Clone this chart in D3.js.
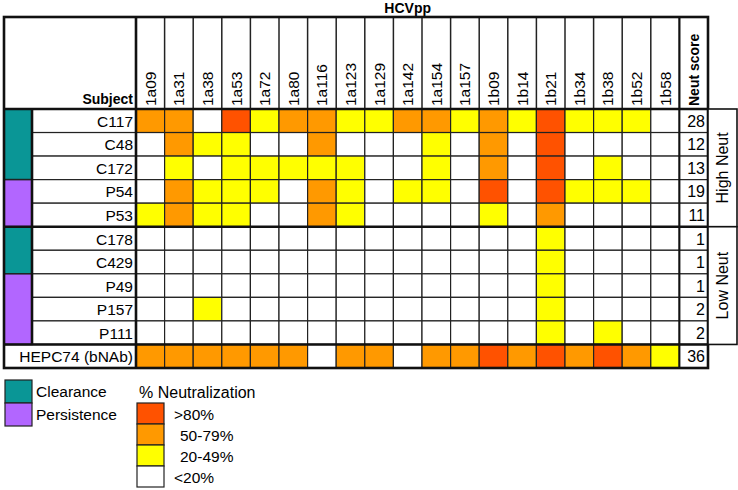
<!DOCTYPE html>
<html>
<head>
<meta charset="utf-8">
<script src="https://cdn.jsdelivr.net/npm/d3@7"></script>
<style>
  body { margin: 0; background: #fff; }
  svg { display: block; font-family: Arial, "Liberation Sans", sans-serif; }
</style>
</head>
<body>
<svg id="chart" width="738" height="490"></svg>
<script>
// strains (HCVpp) across the top
var strains = ["1a09","1a31","1a38","1a53","1a72","1a80","1a116","1a123","1a129","1a142",
               "1a154","1a157","1b09","1b14","1b21","1b34","1b38","1b52","1b58"];
var subjects = ["C117","C48","C172","P54","P53","C178","C429","P49","P157","P111","HEPC74 (bNAb)"];
var outcome = ["Clearance","Clearance","Clearance","Persistence","Persistence",
               "Clearance","Clearance","Persistence","Persistence","Persistence", null];
var neutScore = [28,12,13,19,11,1,1,1,2,2,36];
var neutGroups = ["High Neut","Low Neut"];
var highNeut = ["C117","C48","C172","P54","P53"];
var lowNeut = ["C178","C429","P49","P157","P111"];

// neutralization level per strain: 0 <20%, 1 20-49%, 2 50-79%, 3 >80%
var C117 = [2,2,0,3,1,2,2,1,1,2,2,1,2,1,3,1,1,1,0];
var C48  = [0,2,1,1,0,0,2,0,0,0,1,0,2,0,3,0,0,0,0];
var C172 = [0,1,0,1,1,1,1,1,0,0,1,0,2,0,3,0,1,0,0];
var P54  = [0,2,1,1,1,0,2,1,0,1,1,0,3,0,3,1,1,1,0];
var P53  = [1,2,1,1,0,0,2,1,0,0,0,0,1,0,2,0,0,0,0];
var C178 = [0,0,0,0,0,0,0,0,0,0,0,0,0,0,1,0,0,0,0];
var C429 = [0,0,0,0,0,0,0,0,0,0,0,0,0,0,1,0,0,0,0];
var P49  = [0,0,0,0,0,0,0,0,0,0,0,0,0,0,1,0,0,0,0];
var P157 = [0,0,1,0,0,0,0,0,0,0,0,0,0,0,1,0,0,0,0];
var P111 = [0,0,0,0,0,0,0,0,0,0,0,0,0,0,1,0,1,0,0];
var HEPC74 = [2,2,2,2,2,2,0,2,2,0,2,2,3,2,3,2,3,2,1];
var levels = [C117,C48,C172,P54,P53,C178,C429,P49,P157,P111,HEPC74];

var levelLabels = ["<20%","20-49%","50-79%",">80%"];
var outcomes = ["Clearance","Persistence"];

var svg = d3.select("#chart");

// note: "top" is taken by window.top, so tableTop
var left = 4, tableTop = 17, barRight = 32, nameRight = 136, headBottom = 109, tableBottom = 368;
var scoreCol = "Neut score";

var x = d3.scaleBand().domain(strains.concat([scoreCol])).range([nameRight, 708]);
var y = d3.scaleBand().domain(subjects).range([headBottom, tableBottom]);
var heat = d3.scaleOrdinal().domain([0,1,2,3]).range(["#ffffff","#ffff00","#ff9900","#ff5200"]);
var outColor = d3.scaleOrdinal().domain(outcomes).range(["#0a9696","#b266ff"]);

// title
svg.append("text")
  .attr("x", (x("1a09") + x("1b58") + x.bandwidth()) / 2)
  .attr("y", 13)
  .attr("text-anchor", "middle")
  .attr("font-weight", "bold")
  .attr("font-size", 14)
  .text("HCVpp");

// heatmap cells
var cells = [];
levels.forEach(function(row, i) {
  row.forEach(function(v, j) { cells.push({s: subjects[i], k: strains[j], v: v}); });
});
svg.append("g").selectAll("rect")
  .data(cells)
  .enter().append("rect")
    .attr("x", function(d) { return x(d.k); })
    .attr("y", function(d) { return y(d.s); })
    .attr("width", x.bandwidth())
    .attr("height", y.bandwidth())
    .attr("fill", function(d) { return heat(d.v); })
    .attr("stroke", "#222")
    .attr("stroke-width", 1.2);

// score column
svg.append("g").selectAll("rect")
  .data(subjects)
  .enter().append("rect")
    .attr("x", x(scoreCol))
    .attr("y", function(d) { return y(d); })
    .attr("width", x.bandwidth())
    .attr("height", y.bandwidth())
    .attr("fill", "#fff")
    .attr("stroke", "#222")
    .attr("stroke-width", 1.2);
svg.append("g").selectAll("text")
  .data(neutScore)
  .enter().append("text")
    .attr("x", x(scoreCol) + x.bandwidth() - 3)
    .attr("y", function(d, i) { return y(subjects[i]) + y.bandwidth() / 2 + 6; })
    .attr("text-anchor", "end")
    .attr("font-size", 16)
    .text(function(d) { return d; });

// subject names
svg.append("g").selectAll("rect")
  .data(subjects)
  .enter().append("rect")
    .attr("x", function(d, i) { return outcome[i] ? barRight : left; })
    .attr("y", function(d) { return y(d); })
    .attr("width", function(d, i) { return nameRight - (outcome[i] ? barRight : left); })
    .attr("height", y.bandwidth())
    .attr("fill", "#fff")
    .attr("stroke", "#222")
    .attr("stroke-width", 1.2);
svg.append("g").selectAll("text")
  .data(subjects)
  .enter().append("text")
    .attr("x", nameRight - 3)
    .attr("y", function(d) { return y(d) + y.bandwidth() / 2 + 6; })
    .attr("text-anchor", "end")
    .attr("font-size", 15.5)
    .text(function(d) { return d; });

// outcome colour bar: contiguous runs
var runs = [];
outcome.forEach(function(o, i) {
  if (!o) return;
  var last = runs[runs.length - 1];
  if (last && last.o === o && last.end === i - 1) last.end = i;
  else runs.push({o: o, start: i, end: i});
});
svg.append("g").selectAll("rect")
  .data(runs)
  .enter().append("rect")
    .attr("x", left)
    .attr("y", function(d) { return y(subjects[d.start]); })
    .attr("width", barRight - left)
    .attr("height", function(d) { return y(subjects[d.end]) + y.bandwidth() - y(subjects[d.start]); })
    .attr("fill", function(d) { return outColor(d.o); })
    .attr("stroke", "#222")
    .attr("stroke-width", 1.5);

// column headers
svg.append("g").selectAll("line")
  .data(strains.concat([scoreCol]))
  .enter().append("line")
    .attr("x1", function(d) { return x(d); })
    .attr("x2", function(d) { return x(d); })
    .attr("y1", tableTop)
    .attr("y2", headBottom)
    .attr("stroke", "#222")
    .attr("stroke-width", 1.5);
svg.append("g").selectAll("text")
  .data(strains.concat([scoreCol]))
  .enter().append("text")
    .attr("transform", function(d) {
      return "translate(" + (x(d) + x.bandwidth() / 2 + 5.5) + "," + (headBottom - 3) + ") rotate(-90)";
    })
    .attr("font-size", function(d) { return d === scoreCol ? 14 : 15.5; })
    .attr("font-weight", function(d) { return d === scoreCol ? "bold" : null; })
    .text(function(d) { return d; });
svg.append("text")
  .attr("x", nameRight - 3)
  .attr("y", headBottom - 5)
  .attr("text-anchor", "end")
  .attr("font-weight", "bold")
  .attr("font-size", 14)
  .text("Subject");

// heavy lines
var thick = svg.append("g").attr("stroke", "#111").attr("stroke-width", 2.6).attr("fill", "none");
thick.append("rect").attr("x", left).attr("y", tableTop).attr("width", 708 - left).attr("height", tableBottom - tableTop);
thick.append("line").attr("x1", left).attr("x2", 708).attr("y1", headBottom).attr("y2", headBottom);
thick.append("line").attr("x1", left).attr("x2", 708).attr("y1", y(lowNeut[0])).attr("y2", y(lowNeut[0]));
thick.append("line").attr("x1", left).attr("x2", 708).attr("y1", y(subjects[10])).attr("y2", y(subjects[10]));
thick.append("line").attr("x1", nameRight).attr("x2", nameRight).attr("y1", tableTop).attr("y2", tableBottom);
thick.append("line").attr("x1", barRight).attr("x2", barRight).attr("y1", headBottom).attr("y2", y(subjects[10]));
thick.append("line").attr("x1", x(scoreCol)).attr("x2", x(scoreCol)).attr("y1", tableTop).attr("y2", tableBottom)
  .attr("stroke-width", 2);

// right group labels
var groupRows = [highNeut, lowNeut];
var gBox = svg.append("g").selectAll("g")
  .data(neutGroups)
  .enter().append("g");
gBox.append("rect")
  .attr("x", 708)
  .attr("y", function(d, i) { return y(groupRows[i][0]); })
  .attr("width", 29)
  .attr("height", function(d, i) { return y(groupRows[i][4]) + y.bandwidth() - y(groupRows[i][0]); })
  .attr("fill", "#fff")
  .attr("stroke", "#111")
  .attr("stroke-width", 1.6);
gBox.append("text")
  .attr("transform", function(d, i) {
    var cy = (y(groupRows[i][0]) + y(groupRows[i][4]) + y.bandwidth()) / 2;
    return "translate(" + 728 + "," + cy + ") rotate(-90)";
  })
  .attr("text-anchor", "middle")
  .attr("font-size", 16)
  .text(function(d) { return d; });

// legend: outcome
var lo = svg.append("g").selectAll("g")
  .data(outcomes)
  .enter().append("g")
    .attr("transform", function(d, i) { return "translate(" + 5 + "," + (380 + i * 23) + ")"; });
lo.append("rect").attr("width", 27).attr("height", 23)
  .attr("fill", function(d) { return outColor(d); })
  .attr("stroke", "#222").attr("stroke-width", 1.2);
lo.append("text").attr("x", 31).attr("y", 17).attr("font-size", 15.5).text(function(d) { return d; });

// legend: neutralization
svg.append("text").attr("x", 139).attr("y", 398).attr("font-size", 16).text("% Neutralization");
var lv = svg.append("g").selectAll("g")
  .data([3, 2, 1, 0])
  .enter().append("g")
    .attr("transform", function(d, i) { return "translate(" + 137 + "," + (403 + i * 21) + ")"; });
lv.append("rect").attr("width", 27).attr("height", 21)
  .attr("fill", function(d) { return heat(d); })
  .attr("stroke", "#222").attr("stroke-width", 1.2);
lv.append("text")
  .attr("x", function(d) { return d === 3 || d === 0 ? 37 : 43; })
  .attr("y", 17)
  .attr("font-size", 15.5)
  .text(function(d) { return levelLabels[d]; });
</script>
</body>
</html>
